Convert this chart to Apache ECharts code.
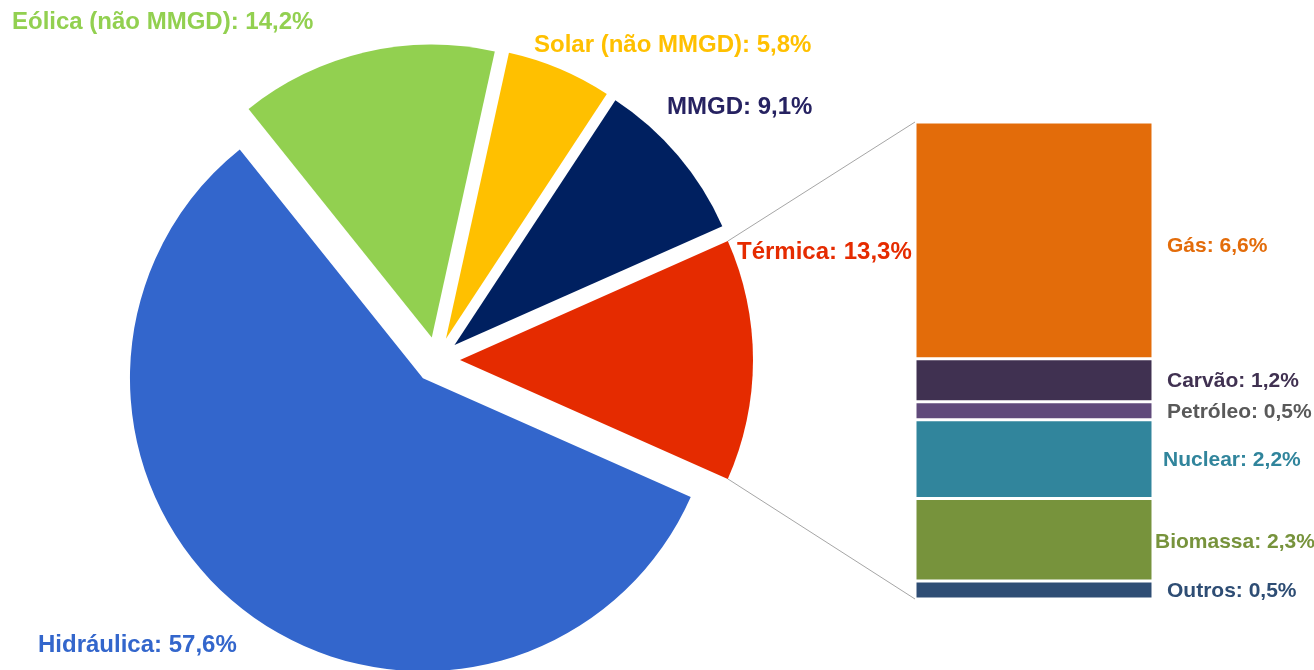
<!DOCTYPE html>
<html>
<head>
<meta charset="utf-8">
<script src="https://cdn.jsdelivr.net/npm/echarts@6/dist/echarts.min.js"></script>
<style>html,body{margin:0;padding:0;background:#fff}#c{width:1314px;height:670px}</style>
</head>
<body>
<div id="c"></div>
<script>
// ---- data ----
const pieNames = ['Térmica', 'Hidráulica', 'Eólica (não MMGD)', 'Solar (não MMGD)', 'MMGD'];
const pieValues = [13.3, 57.6, 14.2, 5.8, 9.1];
const pieColors = ['#E52B00', '#3366CC', '#92D050', '#FFC000', '#002060'];
const pieLabelColors = ['#E52B00', '#3366CC', '#92D050', '#FFC000', '#262261'];

const barNames = ['Gás', 'Carvão', 'Petróleo', 'Nuclear', 'Biomassa', 'Outros'];
const barValues = [6.6, 1.2, 0.5, 2.2, 2.3, 0.5];
const barColors = ['#E36C0A', '#403151', '#604A7B', '#31859C', '#77933C', '#2E4D74'];
const barLabelColors = ['#E36C0A', '#403151', '#595959', '#31859C', '#77933C', '#2E4D74'];

// ---- layout (styling only) ----
const PIE_CENTER = [437, 360];
const PIE_R = 293;
const PIE_OFFSET = 23;
const pieLabelPos = [
  {x: 737, y: 252}, // Térmica
  {x: 38, y: 645},  // Hidráulica
  {x: 12, y: 22},   // Eólica
  {x: 534, y: 45},  // Solar
  {x: 667, y: 107}  // MMGD
];
const barLabelDist = [14, 14, 14, 10, 2, 14];
const barLabelDy = [6, 1, 1, 1, 2, 1];
const FONT = 'Liberation Sans, Arial, sans-serif';

const fmt = v => v.toFixed(1).replace('.', ',') + '%';
const termicaIdx = 0;
const termicaTotal = pieValues[termicaIdx];
const totalPie = pieValues.reduce((a, b) => a + b, 0);
const halfAngle = termicaTotal / totalPie * 360 / 2;

const chart = echarts.init(document.getElementById('c'), null, {renderer: 'canvas'});

const barSeries = [];
for (let i = barNames.length - 1; i >= 0; i--) {
  barSeries.push({
    type: 'bar',
    name: barNames[i],
    stack: 'termica',
    barWidth: '100%',
    data: [barValues[i]],
    itemStyle: {color: barColors[i], borderColor: '#ffffff', borderWidth: 1.5},
    label: {
      show: true,
      position: 'right',
      distance: barLabelDist[i],
      offset: [0, barLabelDy[i]],
      formatter: p => p.seriesName + ': ' + fmt(p.value),
      color: barLabelColors[i],
      fontFamily: FONT,
      fontWeight: 'bold',
      fontSize: 21
    },
    emphasis: {disabled: true},
    silent: true
  });
}

chart.setOption({
  animation: false,
  backgroundColor: '#ffffff',
  grid: {left: 915, right: 161, top: 122, bottom: 71, containLabel: false},
  xAxis: {type: 'category', data: ['Térmica'], show: false},
  yAxis: {type: 'value', min: 0, max: termicaTotal, show: false},
  series: [
    {
      type: 'pie',
      center: PIE_CENTER,
      radius: [0, PIE_R],
      startAngle: halfAngle,
      clockwise: true,
      avoidLabelOverlap: false,
      selectedMode: 'multiple',
      selectedOffset: PIE_OFFSET,
      silent: true,
      emphasis: {disabled: true},
      data: pieNames.map((n, i) => ({
        name: n,
        value: pieValues[i],
        selected: true,
        itemStyle: {color: pieColors[i]}
      })),
      label: {show: false},
      labelLine: {show: false}
    }
  ].concat(barSeries)
});

// pie labels + connector lines from Térmica slice edges to bar corners
const rect = chart.getModel().getComponent('grid', 0).coordinateSystem.getRect();
const apexX = PIE_CENTER[0] + PIE_OFFSET;
const apexY = PIE_CENTER[1];
const rad = halfAngle * Math.PI / 180;
const topPt = [apexX + PIE_R * Math.cos(rad), apexY - PIE_R * Math.sin(rad)];
const botPt = [apexX + PIE_R * Math.cos(rad), apexY + PIE_R * Math.sin(rad)];
const yTop = chart.convertToPixel({yAxisIndex: 0}, termicaTotal);
const yBot = chart.convertToPixel({yAxisIndex: 0}, 0);

const graphics = [
  {type: 'line', shape: {x1: topPt[0], y1: topPt[1], x2: rect.x, y2: yTop}, style: {stroke: '#A6A6A6', lineWidth: 1}, silent: true},
  {type: 'line', shape: {x1: botPt[0], y1: botPt[1], x2: rect.x, y2: yBot}, style: {stroke: '#A6A6A6', lineWidth: 1}, silent: true}
];
pieNames.forEach((n, i) => {
  graphics.push({
    type: 'text',
    x: pieLabelPos[i].x,
    y: pieLabelPos[i].y,
    silent: true,
    style: {
      text: n + ': ' + fmt(pieValues[i]),
      fill: pieLabelColors[i],
      font: 'bold 24px ' + FONT,
      align: 'left',
      verticalAlign: 'middle'
    }
  });
});
chart.setOption({graphic: graphics});
</script>
</body>
</html>
